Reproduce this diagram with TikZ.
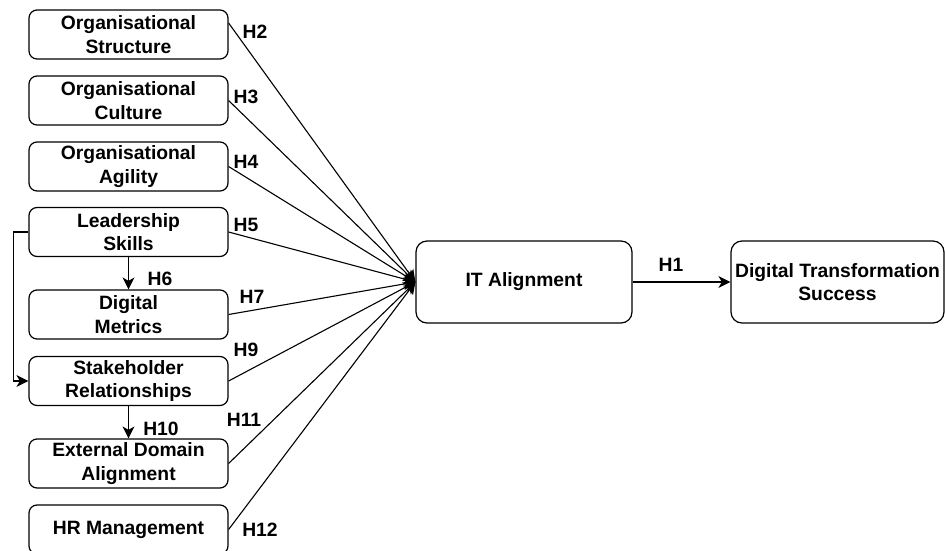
\documentclass[tikz,border=0pt]{standalone}
\usepackage{fontspec}
\setmainfont{Liberation Sans}
\usetikzlibrary{arrows.meta,calc}
\begin{document}
\begin{tikzpicture}[x=1pt,y=-1pt,
  every node/.style={font=\fontsize{19.3}{23.5}\selectfont\bfseries, inner sep=0pt},
  factor/.style={draw, line width=1.2pt, rounded corners=8pt, minimum width=199pt, minimum height=49pt, align=center},
  bigbox/.style={draw, line width=1.2pt, rounded corners=11pt, minimum height=82pt, align=center},
  link/.style={line width=1.1pt, -{Stealth[length=12pt,width=12pt,inset=3.5pt]}},
  hlab/.style={anchor=center}
]
\useasboundingbox (0,0) rectangle (945,551);
\node[factor] (b1) at (128.5,34.5) {Organisational\\Structure};
\node[factor] (b2) at (128.5,100.5) {Organisational\\Culture};
\node[factor] (b3) at (128.5,166.5) {Organisational\\Agility};
\node[factor] (b4) at (128.5,232) {Leadership\\Skills};
\node[factor] (b5) at (128.5,314.5) {Digital\\Metrics};
\node[factor] (b6) at (128.5,381) {Stakeholder\\Relationships};
\node[factor] (b7) at (128.5,463.5) {External Domain\\Alignment};
\node[factor] (b8) at (128.5,529.5) {HR Management};
\node[bigbox, minimum width=216pt] (it) at (524,282) {IT Alignment};
\node[bigbox, minimum width=213pt] (dts) at (837.5,282) {Digital Transformation\\Success};

\draw[link] ($(b1.east)+(0,-11.5)$) -- (it.west);
\foreach \b in {b2,b3,b4,b5,b6,b7,b8}
  \draw[link] (\b.east) -- (it.west);
\draw[link] (it.east) -- (dts.west);
\draw[link] (b4.south) -- (b5.north);
\draw[link] (b6.south) -- (b7.north);
\draw[link] (b4.west) -- ++(-15,0) |- (b6.west);

\node[hlab] (h2) at (255,32) {H2};
\node[hlab] (h3) at (246,97) {H3};
\node[hlab] (h4) at (246,162) {H4};
\node[hlab] (h5) at (246,225) {H5};
\node[hlab] (h6) at (160,279) {H6};
\node[hlab] (h7) at (252,297) {H7};
\node[hlab] (h9) at (246,350) {H9};
\node[hlab] (h10) at (161,429) {H10};
\node[hlab] (h11) at (244,420) {H11};
\node[hlab] (h12) at (260,530) {H12};
\node[hlab] (h1) at (671,265) {H1};
\end{tikzpicture}
\end{document}
